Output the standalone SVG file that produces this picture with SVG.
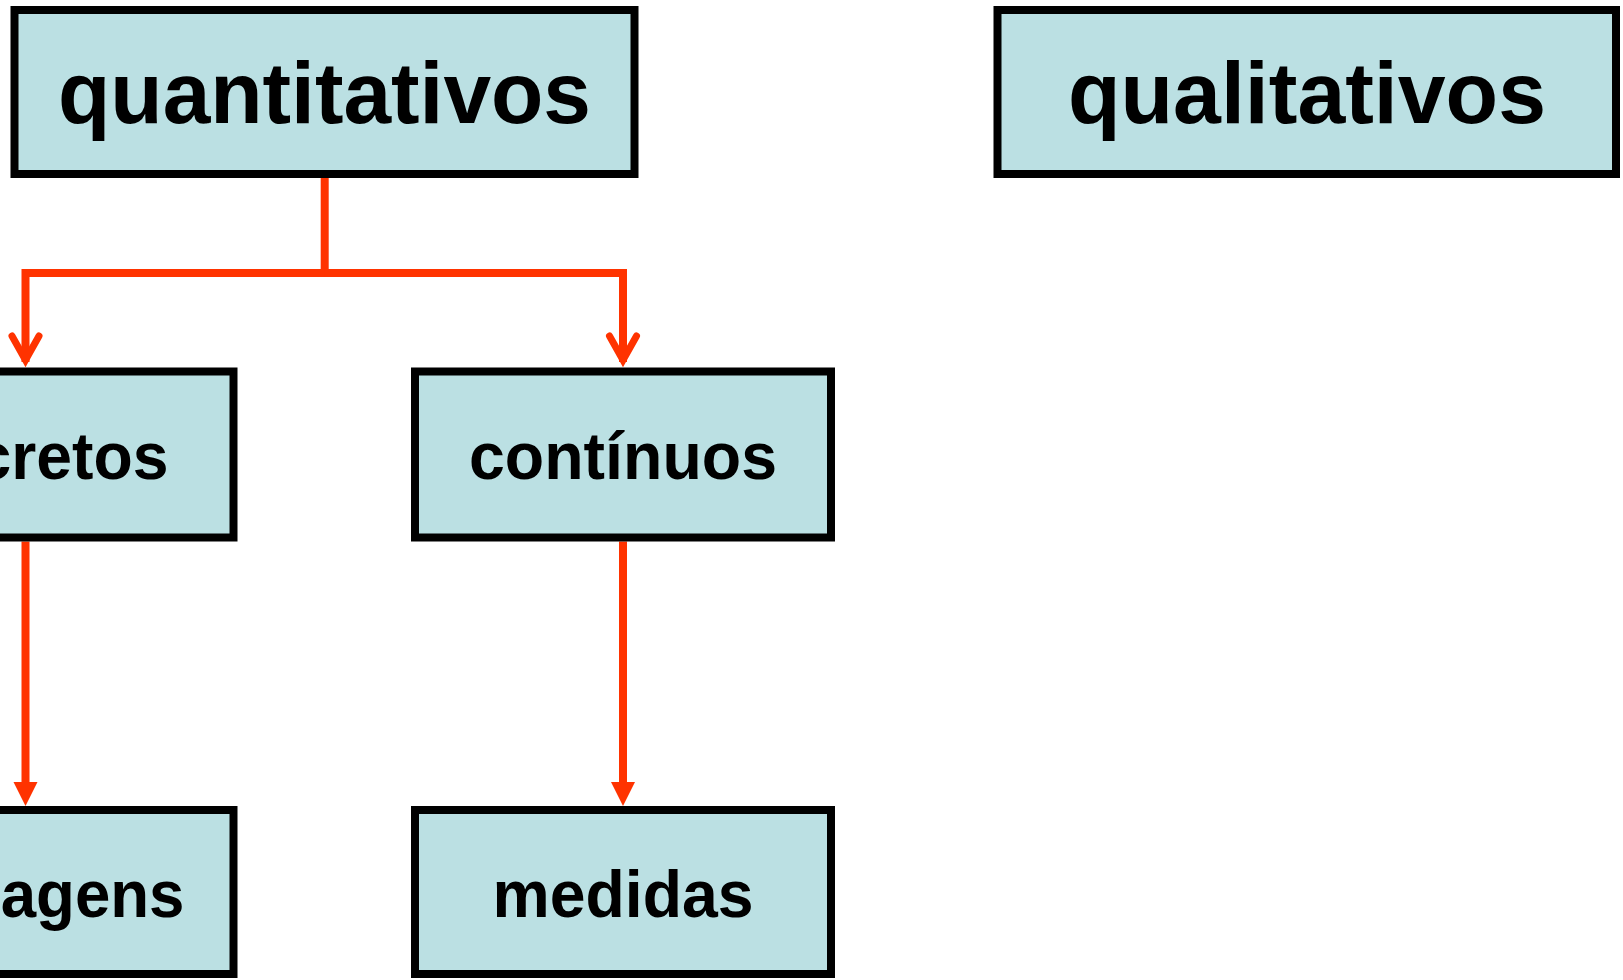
<svg xmlns="http://www.w3.org/2000/svg" width="1623" height="980" viewBox="0 0 1623 980">
  <style>
    .box { fill: #BBE0E3; stroke: #000000; stroke-width: 8; }
    .big { font-family: "Liberation Sans", Arial, sans-serif; font-weight: bold; font-size: 88px; fill: #000000; text-anchor: middle; }
    .mid { font-family: "Liberation Sans", Arial, sans-serif; font-weight: bold; font-size: 66px; fill: #000000; text-anchor: middle; }
    .line { fill: none; stroke: #FF3300; stroke-width: 8; }
    .head-open { fill: none; stroke: #FF3300; stroke-width: 7; stroke-linecap: round; stroke-linejoin: miter; stroke-miterlimit: 10; }
    .head-fill { fill: #FF3300; stroke: none; }
  </style>
  <rect width="1623" height="980" fill="#FFFFFF"/>
  <g id="connectors">
    <path class="line" d="M324.7,178 V273 H25.5 V362"/>
    <path class="line" d="M324.7,273 H623 V362"/>
    <polyline class="head-open" points="12,336 25.5,360 39,336"/>
    <polyline class="head-open" points="609.5,336 623,360 636.5,336"/>
    <path class="line" d="M25.5,541.5 V784"/>
    <path class="line" d="M623,541.5 V784"/>
    <polygon class="head-fill" points="13.5,782 37.5,782 25.5,806"/>
    <polygon class="head-fill" points="611,782 635,782 623,806"/>
  </g>
  <g id="node-quantitativos">
    <rect class="box" x="14.5" y="10" width="620" height="164"/>
    <text class="big" x="324.5" y="123" textLength="533" lengthAdjust="spacingAndGlyphs">quantitativos</text>
  </g>
  <g id="node-qualitativos">
    <rect class="box" x="997.5" y="10" width="618.5" height="164"/>
    <text class="big" x="1307" y="123" textLength="478" lengthAdjust="spacingAndGlyphs">qualitativos</text>
  </g>
  <g id="node-discretos">
    <rect class="box" x="-182.5" y="371.5" width="416" height="166"/>
    <text class="mid" x="25.5" y="479" textLength="286" lengthAdjust="spacingAndGlyphs">discretos</text>
  </g>
  <g id="node-continuos">
    <rect class="box" x="415" y="371.5" width="416" height="166"/>
    <text class="mid" x="623" y="479" textLength="308" lengthAdjust="spacingAndGlyphs">contínuos</text>
  </g>
  <g id="node-contagens">
    <rect class="box" x="-182.5" y="810" width="416" height="164"/>
    <text class="mid" x="25.5" y="917" textLength="318" lengthAdjust="spacingAndGlyphs">contagens</text>
  </g>
  <g id="node-medidas">
    <rect class="box" x="415" y="810" width="416" height="164"/>
    <text class="mid" x="623" y="917" textLength="261" lengthAdjust="spacingAndGlyphs">medidas</text>
  </g>
</svg>
